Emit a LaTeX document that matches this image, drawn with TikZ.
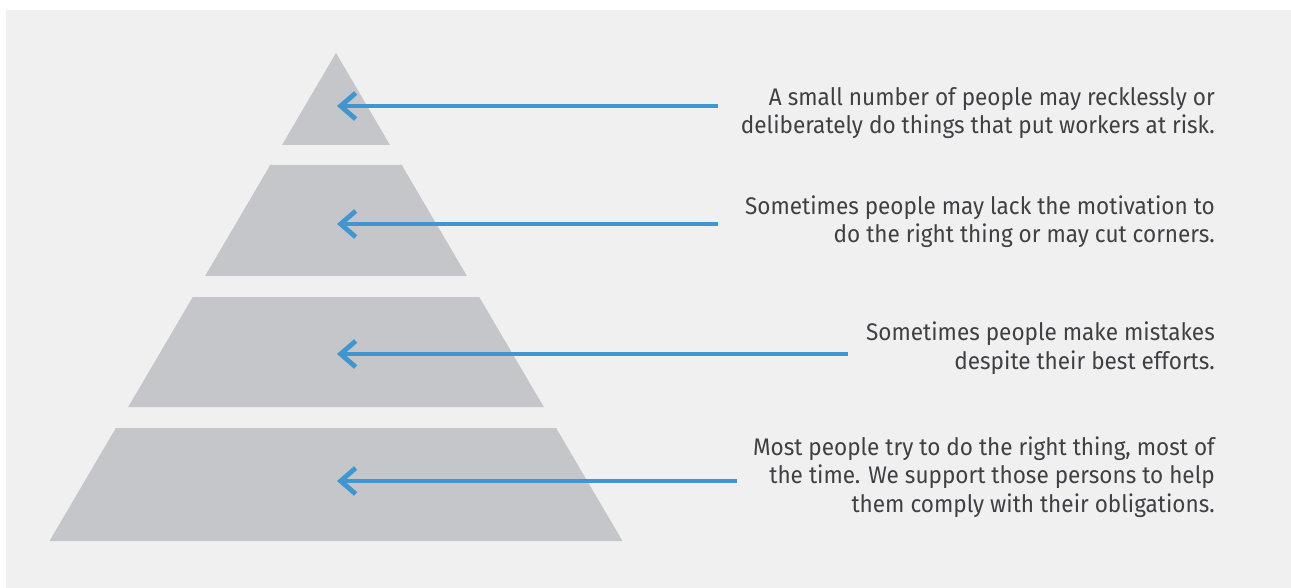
\documentclass[tikz,border=0pt]{standalone}
\usepackage{fontspec}
\setmainfont{Fira Sans}[FakeStretch=0.94]
\usetikzlibrary{arrows.meta}
\definecolor{bgc}{HTML}{F0F0F1}
\definecolor{layerc}{HTML}{C5C6CA}
\definecolor{arrc}{HTML}{4196D0}
\definecolor{txtc}{HTML}{404044}
\tikzset{
  layer/.style={fill=layerc, draw=none},
  pointer/.style={draw=arrc, line width=4.8pt, -{Straight Barb[length=15pt,width=26pt,line width=4.8pt]}},
  note/.style={text=txtc, align=right, anchor=base east, inner sep=0pt,
    font=\fontsize{24}{28.5}\selectfont}
}
\begin{document}
\begin{tikzpicture}[x=1pt,y=-1pt]
\useasboundingbox (0,0) rectangle (1291,588);
\fill[white] (0,0) rectangle (1291,588);
\fill[bgc] (6,10) rectangle (1291,588);
% pyramid: apex (336,53), half width = 0.587*(y-53)
\def\pk{0.587}
\foreach \ya/\yb [count=\i] in {53/145,165/276,297/407,428/541}{
  \pgfmathsetmacro{\wa}{\pk*(\ya-53)}
  \pgfmathsetmacro{\wb}{\pk*(\yb-53)}
  \path[layer] (336-\wa,\ya) -- (336+\wa,\ya) -- (336+\wb,\yb) -- (336-\wb,\yb) -- cycle;
}
% notes (anchor = baseline of last line)
\node[note] (n1) at (1215,134) {A small number of people may recklessly or\\deliberately do things that put workers at risk.};
\node[note] (n2) at (1215,243) {Sometimes people may lack the motivation to\\do the right thing or may cut corners.};
\node[note] (n3) at (1215,369) {Sometimes people make mistakes\\despite their best efforts.};
\node[note] (n4) at (1215,512) {Most people try to do the right thing, most of\\the time. We support those persons to help\\them comply with their obligations.};
% arrows
\coordinate (s1) at (718,106); \coordinate (t1) at (337,106);
\coordinate (s2) at (718,224); \coordinate (t2) at (337,224);
\coordinate (s3) at (848,354); \coordinate (t3) at (337,354);
\coordinate (s4) at (737,481); \coordinate (t4) at (337,481);
\draw[pointer] (s1) -- (t1);
\draw[pointer] (s2) -- (t2);
\draw[pointer] (s3) -- (t3);
\draw[pointer] (s4) -- (t4);
\end{tikzpicture}
\end{document}
